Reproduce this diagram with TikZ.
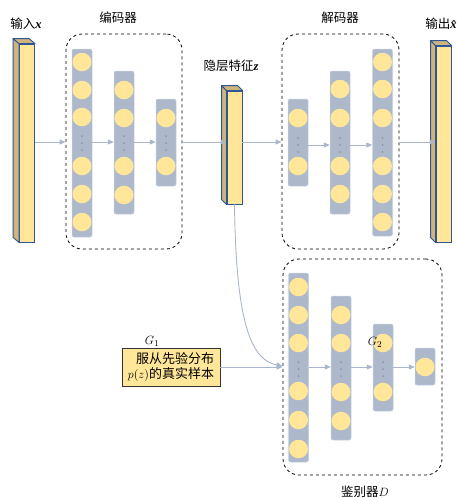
\documentclass[tikz,border=0pt]{standalone}
\usepackage{fontspec}
\setmainfont{Liberation Serif}
\newfontfamily\cjk{Noto Sans CJK SC}
\usetikzlibrary{arrows.meta,calc,shapes.geometric}
\definecolor{colfill}{HTML}{ADB9CA}
\definecolor{colline}{HTML}{C5D0E3}
\definecolor{neuron}{HTML}{FFE699}
\definecolor{barside}{HTML}{CDB57C}
\definecolor{barline}{HTML}{2F5597}
\definecolor{arrcol}{HTML}{A9B6CE}
\definecolor{dotcol}{HTML}{8C96A8}
\newcommand{\bx}[1]{{\rmfamily\bfseries\itshape #1}}
\tikzset{
  colbox/.style={draw=colline, line width=0.5pt, fill=colfill, rounded corners=2pt, minimum width=20pt, inner sep=0pt},
  neu/.style={ellipse, fill=neuron, minimum width=19pt, minimum height=18.5pt, inner sep=0pt},
  barfront/.style={draw=barline, fill=neuron, line width=0.9pt, inner sep=0pt, minimum width=15pt},
  barface/.style={draw=barline, fill=barside, line width=0.9pt, line join=round},
  group/.style={draw=black, dashed, line width=0.8pt, rounded corners=16pt, inner sep=0pt},
  arr/.style={draw=arrcol, line width=0.9pt, -{Triangle[length=6pt,width=5pt]}},
  lbl/.style={font=\cjk\fontsize{12.5}{14}\selectfont, inner sep=0.5pt},
  prior/.style={draw=black!80, fill=neuron, line width=0.9pt, minimum width=98pt, minimum height=38pt, inner sep=1.5pt, align=right, font=\cjk\fontsize{13}{15.5}\selectfont}
}
\newcommand{\threedots}[2]{%
  \foreach \dd in {-7,0,7} {\fill[dotcol] (#1,#2+\dd) circle (1pt);}}
\begin{document}
\begin{tikzpicture}[x=1pt,y=-1pt]
\useasboundingbox (0,0) rectangle (457,498);

% ---------- dashed groups ----------
\node[group, minimum width=116pt, minimum height=215pt] (enc) at (124,141.5) {};
\node[group, minimum width=117pt, minimum height=215pt] (dec) at (340.5,141.5) {};
\node[group, minimum width=159pt, minimum height=216pt] (disc) at (362.5,367) {};

% ---------- labels ----------
\node[lbl] (linput) at (26,24) {输入\bx{x}};
\node[lbl] (lenc) at (118,18) {编码器};
\node[lbl] (llat) at (231,66) {隐层特征\bx{z}};
\node[lbl] (ldec) at (340,18) {解码器};
\node[lbl] (lout) at (441,24) {输出\bx{x̂}};
\node[lbl] (ldisc) at (365,492) {鉴别器$D$};

% ---------- bars ----------
\node[barfront, minimum height=198pt] (inbar) at (27,143) {};
\filldraw[barface] (inbar.north west) -- ++(-6,-5) -- ($(inbar.south west)+(-6,-5)$) -- (inbar.south west) -- cycle;
\filldraw[barface] (inbar.north west) -- ++(-6,-5) -- ($(inbar.north east)+(-6,-5)$) -- (inbar.north east) -- cycle;

\node[barfront, minimum height=113pt] (lat) at (234.5,147.5) {};
\filldraw[barface] (lat.north west) -- ++(-5,-5) -- ($(lat.south west)+(-5,-5)$) -- (lat.south west) -- cycle;
\filldraw[barface] (lat.north west) -- ++(-5,-5) -- ($(lat.north east)+(-5,-5)$) -- (lat.north east) -- cycle;

\node[barfront, minimum height=196pt] (outbar) at (443.5,144) {};
\filldraw[barface] (outbar.north west) -- ++(-5,-5) -- ($(outbar.south west)+(-5,-5)$) -- (outbar.south west) -- cycle;
\filldraw[barface] (outbar.north west) -- ++(-5,-5) -- ($(outbar.north east)+(-5,-5)$) -- (outbar.north east) -- cycle;

% ---------- encoder ----------
\node[colbox, minimum height=188pt] (e1) at (82,143) {};
\foreach \y [count=\i] in {62,90,117,166,194,222} \node[neu] (e1n\i) at (82,\y) {};
\threedots{82}{143}
\node[colbox, minimum height=143pt] (e2) at (124,142.5) {};
\foreach \y [count=\i] in {90,118,166,195} \node[neu] (e2n\i) at (124,\y) {};
\threedots{124}{143}
\node[colbox, minimum height=87pt] (e3) at (166,142.5) {};
\foreach \y [count=\i] in {118,166} \node[neu] (e3n\i) at (166,\y) {};
\threedots{166}{143}

% ---------- decoder ----------
\node[colbox, minimum height=87pt] (d1) at (298,142.5) {};
\foreach \y [count=\i] in {118,166} \node[neu] (d1n\i) at (298,\y) {};
\threedots{298}{145}
\node[colbox, minimum height=143pt] (d2) at (340,142.5) {};
\foreach \y [count=\i] in {89,118,166,194} \node[neu] (d2n\i) at (340,\y) {};
\threedots{340}{145}
\node[colbox, minimum height=187pt] (d3) at (382.5,142.5) {};
\foreach \y [count=\i] in {62,89,118,166,194,222} \node[neu] (d3n\i) at (382.5,\y) {};
\threedots{382.5}{145}

% ---------- discriminator ----------
\node[colbox, minimum height=189pt] (q1) at (298.5,367.5) {};
\foreach \y [count=\i] in {287,315,343,391,420,449} \node[neu] (q1n\i) at (298.5,\y) {};
\threedots{298.5}{369}
\node[colbox, minimum height=144pt] (q2) at (341,368) {};
\foreach \y [count=\i] in {315,343,392,421} \node[neu] (q2n\i) at (341,\y) {};
\threedots{341}{369}
\node[colbox, minimum height=87pt] (q3) at (383,367.5) {};
\foreach \y [count=\i] in {343,392} \node[neu] (q3n\i) at (383,\y) {};
\threedots{383}{369}
\node[colbox, minimum height=37pt] (q4) at (425,366.5) {};
\node[neu] (q4n1) at (425,367) {};

% ---------- prior box ----------
\node[prior] (prior) at (171,367) {服从先验分布\\$p(z)$的真实样本};
\node[font=\fontsize{12.5}{14}\selectfont, inner sep=0pt] (g1) at (152,341) {$G_1$};
\node[font=\fontsize{12.5}{14}\selectfont, inner sep=0pt] (g2) at (375,342) {$G_2$};

% ---------- connectors ----------
\draw[arr] (inbar.east |- 0,142) -- (enc.west |- 0,142);
\draw[arr] (e1.east |- 0,142) -- (e2.west |- 0,142);
\draw[arr] (e2.east |- 0,142) -- (e3.west |- 0,142);
\draw[arr] (enc.east |- 0,142) -- (lat.west |- 0,142);
\draw[arr] (lat.east |- 0,142) -- (dec.west |- 0,142);
\draw[arr] (d1.east |- 0,145) -- (d2.west |- 0,145);
\draw[arr] (d2.east |- 0,145) -- (d3.west |- 0,145);
\draw[arr] (dec.east |- 0,142) -- (outbar.west |- 0,142);

\draw[arr] (prior.east) -- (disc.west |- prior.east);
\draw[arr] (q1.east |- 0,367) -- (q2.west |- 0,367);
\draw[arr] (q2.east |- 0,367) -- (q3.west |- 0,367);
\draw[arr] (q3.east |- 0,367) -- (q4.west |- 0,367);
\draw[arr] (lat.south) .. controls (236,320) and (250,360) .. (disc.west |- 0,366);
\end{tikzpicture}
\end{document}
